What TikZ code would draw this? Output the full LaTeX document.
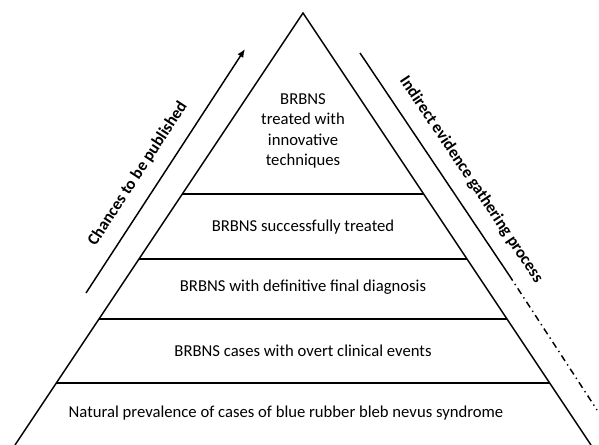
\documentclass[tikz,border=0pt]{standalone}
\usepackage{fontspec}
\setmainfont{Carlito}
\usetikzlibrary{arrows.meta, positioning, calc}

\begin{document}
\begin{tikzpicture}[
  x=0.75pt, y=0.75pt,
  edge/.style    = {line width=1.1pt},
  tier/.style    = {align=center, font=\fontsize{12.5}{15.4}\selectfont},
  side/.style    = {font=\bfseries\fontsize{12.5}{15}\selectfont, sloped, above=7pt},
  arrow/.style   = {line width=1.1pt, -{Latex[length=2.2mm, width=1.8mm]}},
  dashdot/.style = {line width=1.1pt, dash pattern=on 5pt off 3pt on 1pt off 3pt}
]
  \useasboundingbox (0,0) rectangle (599,445);

  % Pyramid outline
  \coordinate (apex) at (303,432);
  \coordinate (bl) at (15,0);
  \coordinate (br) at (591,0);
  \draw[edge] (bl) -- (apex) -- (br);

  % Tier separators
  \foreach \t/\name in {0.419/a, 0.569/b, 0.708/c, 0.856/d}
    \draw[edge] ($(apex)!\t!(bl)$) coordinate (l\name) -- ($(apex)!\t!(br)$) coordinate (r\name);

  % Tier labels
  \node[tier] (innov) at (303,314) {BRBNS\\treated with\\innovative\\techniques};
  \node[tier] (treated) at (303,218) {BRBNS successfully treated};
  \node[tier] (diag) at (303,158) {BRBNS with definitive final diagnosis};
  \node[tier] (overt) at (303,94) {BRBNS cases with overt clinical events};
  \node[tier] (prev) at (286,32) {Natural prevalence of cases of blue rubber bleb nevus syndrome};

  % Left arrow
  \coordinate (pubfrom) at (86,152);
  \coordinate (pubto) at (245,396);
  \draw[arrow] (pubfrom) -- node[side, pos=0.44] {Chances to be published} (pubto);

  % Right line, solid then dash-dotted
  \coordinate (evfrom) at (360,392);
  \coordinate (evmid) at (509,170);
  \coordinate (evto) at (597,35);
  \draw[edge] (evfrom) -- node[side, pos=0.625] {Indirect evidence gathering process} (evmid);
  \draw[dashdot] (evmid) -- (evto);

\end{tikzpicture}
\end{document}
